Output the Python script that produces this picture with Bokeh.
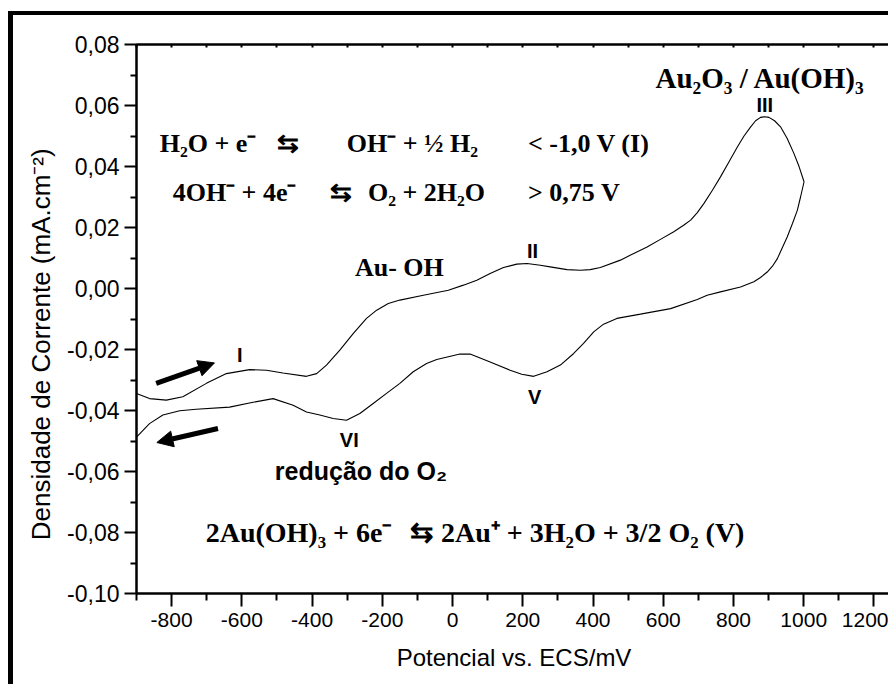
from bokeh.plotting import figure
from bokeh.models import Range1d, FixedTicker, LinearAxis, Label, Arrow, NormalHead
from bokeh.embed import file_html
from bokeh.resources import INLINE

# ---- data ----
# anodic (forward) sweep
fwd_x = [-900, -863, -815, -768, -701, -644, -578, -530, -483, -416, -387, -359, -321, -283,
         -245, -216, -183, -150, -83, -12, 31, 69, 107, 145, 183, 212, 250, 278, 326, 364,
         392, 421, 478, 516, 554, 592, 630, 659, 678, 697, 716, 740, 763, 787, 811, 830,
         849, 863, 877, 889, 901, 917, 934, 953, 972, 987, 1001]
fwd_y = [-0.0344, -0.0361, -0.0366, -0.0355, -0.0311, -0.0279, -0.0266, -0.0268, -0.0277,
         -0.0288, -0.0279, -0.0251, -0.0202, -0.0148, -0.0098, -0.0071, -0.0049, -0.0038,
         -0.0022, -0.0006, 0.0011, 0.0027, 0.0049, 0.0069, 0.0080, 0.0082, 0.0076, 0.0071,
         0.0062, 0.0060, 0.0062, 0.0069, 0.0093, 0.0115, 0.0136, 0.0161, 0.0186, 0.0208,
         0.0224, 0.0249, 0.0279, 0.0322, 0.0366, 0.0415, 0.0464, 0.0500, 0.0530, 0.0550,
         0.0561, 0.0563, 0.0561, 0.0550, 0.0530, 0.0492, 0.0443, 0.0399, 0.0350]
# cathodic (reverse) sweep
rev_x = [1001, 991, 982, 968, 953, 925, 911, 896, 877, 858, 820, 763, 725, 697, 621, 535,
         468, 430, 402, 373, 345, 307, 269, 231, 197, 164, 107, 50, 21, -12, -45, -74, -112,
         -150, -188, -226, -264, -302, -340, -378, -416, -454, -511, -568, -635, -730, -777,
         -825, -863, -900]
rev_y = [0.0350, 0.0300, 0.0257, 0.0213, 0.0169, 0.0098, 0.0073, 0.0054, 0.0036, 0.0022,
         0.0005, -0.0011, -0.0022, -0.0036, -0.0066, -0.0084, -0.0098, -0.0117, -0.0142,
         -0.0180, -0.0213, -0.0251, -0.0273, -0.0288, -0.0281, -0.0268, -0.0241, -0.0215,
         -0.0215, -0.0224, -0.0233, -0.0246, -0.0273, -0.0311, -0.0344, -0.0377, -0.0410,
         -0.0432, -0.0426, -0.0415, -0.0405, -0.0383, -0.0361, -0.0373, -0.0389, -0.0396,
         -0.0401, -0.0415, -0.0443, -0.0487]

x_ticks = [-800, -600, -400, -200, 0, 200, 400, 600, 800, 1000, 1200]
x_tick_labels = ["-800", "-600", "-400", "-200", "0", "200", "400", "600", "800", "1000", "1200"]
x_minor = [-900, -700, -500, -300, -100, 100, 300, 500, 700, 900, 1100]
top_ticks = [-900, -800, -700, -600, -500, -400, -300, -200, -100, 0, 100, 200, 300, 400,
             500, 600, 700, 800, 900, 1000, 1100, 1200]
y_ticks = [-0.10, -0.08, -0.06, -0.04, -0.02, 0.0, 0.02, 0.04, 0.06, 0.08]
y_tick_labels = ["-0,10", "-0,08", "-0,06", "-0,04", "-0,02", "0,00", "0,02", "0,04", "0,06", "0,08"]
y_minor = [-0.09, -0.07, -0.05, -0.03, -0.01, 0.01, 0.03, 0.05, 0.07]

SANS = "Liberation Sans"
SERIF = "Liberation Serif"

p = figure(width=880, height=673, x_range=Range1d(-900, 1250), y_range=Range1d(-0.10, 0.08),
           output_backend="svg", toolbar_location=None,
           min_border_left=123, min_border_right=2, min_border_top=29, min_border_bottom=95)
p.styles = {"margin-left": "8px", "margin-top": "11px",
            "border-left": "5px solid black", "border-top": "4px solid black"}
p.background_fill_color = "white"
p.border_fill_color = "white"
p.outline_line_color = "black"
p.outline_line_width = 2
p.xgrid.visible = False
p.ygrid.visible = False

# left axis
ya = p.yaxis[0]
ya.ticker = FixedTicker(ticks=y_ticks, minor_ticks=y_minor)
ya.major_label_overrides = dict(zip(y_ticks, y_tick_labels))
ya.axis_label = "Densidade de Corrente (mA.cm\u207b\u00b2)" + "\u00a0" * 7
ya.axis_label_text_font = SANS
ya.axis_label_text_font_size = "26px"
ya.axis_label_text_font_style = "normal"
ya.axis_label_text_color = "black"
ya.axis_label_standoff = 8
ya.major_label_text_font = SANS
ya.major_label_text_font_size = "23px"
ya.major_label_text_color = "black"
ya.major_label_standoff = 5
ya.axis_line_width = 2
ya.major_tick_line_width = 2
ya.minor_tick_line_width = 2
ya.major_tick_out = 12
ya.major_tick_in = 0
ya.minor_tick_out = 6
ya.minor_tick_in = 0

# bottom axis
xa = p.xaxis[0]
xa.ticker = FixedTicker(ticks=x_ticks, minor_ticks=x_minor)
xa.major_label_overrides = dict(zip(x_ticks, x_tick_labels))
xa.major_label_text_font = SANS
xa.major_label_text_font_size = "21px"
xa.major_label_text_color = "black"
xa.major_label_standoff = 6
xa.axis_label = "Potencial vs. ECS/mV"
xa.axis_label_text_font = SANS
xa.axis_label_text_font_size = "24px"
xa.axis_label_text_font_style = "normal"
xa.axis_label_text_color = "black"
xa.axis_label_standoff = 14
xa.axis_line_width = 2
xa.major_tick_line_width = 2
xa.minor_tick_line_width = 2
xa.major_tick_out = 13
xa.major_tick_in = 0
xa.minor_tick_out = 7
xa.minor_tick_in = 0

# top axis (ticks only)
ta = LinearAxis(ticker=FixedTicker(ticks=top_ticks, minor_ticks=[]))
ta.major_label_text_color = None
ta.axis_line_width = 2
ta.major_tick_line_width = 2
ta.major_tick_in = 3
ta.major_tick_out = 0
p.add_layout(ta, "above")

# the voltammogram
p.line(fwd_x, fwd_y, line_color="black", line_width=1.1)
p.line(rev_x, rev_y, line_color="black", line_width=1.1)

# sweep direction arrows
p.add_layout(Arrow(end=NormalHead(size=16, fill_color="black", line_color="black"),
                   x_start=-844, y_start=-0.0311, x_end=-678, y_end=-0.0244,
                   line_width=5, line_color="black"))
p.add_layout(Arrow(end=NormalHead(size=16, fill_color="black", line_color="black"),
                   x_start=-668, y_start=-0.0459, x_end=-842, y_end=-0.0505,
                   line_width=5, line_color="black"))


def lab(x, y, text, font=SERIF, size="26px", style="bold", align="left", baseline="alphabetic"):
    p.add_layout(Label(x=x, y=y, text=text, text_font=font, text_font_size=size,
                       text_font_style=style, text_align=align, text_baseline=baseline,
                       text_color="black"))


# reaction equations
r1, r2, r3 = 0.0474, 0.0314, -0.0801
lab(-834, r1, "H\u2082O + e\u207b")
lab(-501, r1, "\u21c6")
lab(-301, r1, "OH\u207b + \u00bd H\u2082")
lab(215, r1, "< -1,0 V  (I)")
lab(-797, r2, "4OH\u207b + 4e\u207b")
lab(-349, r2, "\u21c6")
lab(-241, r2, "O\u2082 + 2H\u2082O")
lab(215, r2, "> 0,75 V")
lab(-703, r3, "2Au(OH)\u2083 + 6e\u207b", size="28px")
lab(-121, r3, "\u21c6", size="28px")
lab(-33, r3, "2Au\u207a + 3H\u2082O + 3/2 O\u2082 (V)", size="28px")
lab(578, 0.069, "Au\u2082O\u2083 / Au(OH)\u2083", size="29px")
lab(-278, 0.007, "Au- OH")
lab(-506, -0.0599, "redu\u00e7\u00e3o do O\u2082", font=SANS, size="25px")

# peak labels
for px_, py_, t in [(-606, -0.0219, "I"), (228, 0.0122, "II"), (889, 0.0601, "III"),
                    (234, -0.0356, "V"), (-294, -0.0497, "VI")]:
    lab(px_, py_, t, font=SANS, size="20px", align="center", baseline="middle")

open("out.html", "w").write(file_html(p, INLINE))
